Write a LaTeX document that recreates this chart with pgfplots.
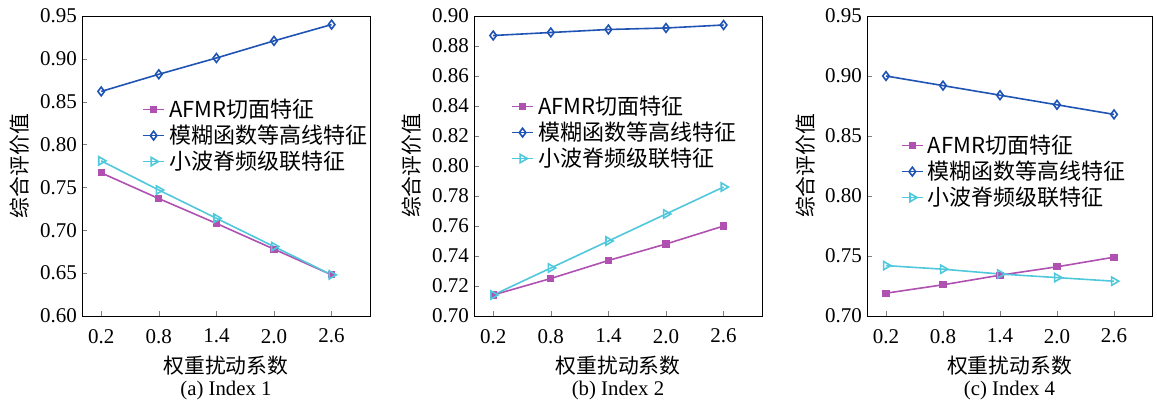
\documentclass[border=0pt]{standalone}
\usepackage{pgfplots}
\pgfplotsset{compat=1.18}
\usepackage{fontspec}
\setmainfont{Liberation Serif}
\newfontfamily\cjk{Noto Sans CJK SC}
\definecolor{cmag}{RGB}{176,80,176}
\definecolor{cblue}{RGB}{32,84,180}
\definecolor{ccyan}{RGB}{80,200,220}
\pgfplotsset{
  base/.style={
    scale only axis, width=144pt, height=150pt,
    xmin=0, xmax=3, xtick={0.2,0.8,1.4,2.0,2.6},
    xticklabels={0.2,0.8,1.4,2.0,2.6},
    tick align=inside, xtick pos=left, ytick pos=left,
    major tick length=2.5pt,
    /pgf/number format/assume math mode=true,
    /pgf/number format/fixed, /pgf/number format/fixed zerofill,
    /pgf/number format/precision=2,
    tick label style={font=\fontsize{10.5}{12}\selectfont},
    label style={font=\fontsize{10.4}{12}\selectfont\cjk},
    xlabel={权重扰动系数}, ylabel={综合评价值},
    xlabel style={at={(axis description cs:0.5,0)}, anchor=center, yshift=-25pt},
    ylabel style={at={(axis description cs:-0.215,0.5)}, anchor=center},
    legend style={draw=none, fill=none, font=\fontsize{11}{13}\selectfont\cjk,
      row sep=-1.8pt, inner sep=1pt},
    legend cell align=left,
    legend image code/.code={\draw[mark repeat=2,mark phase=2] plot coordinates {(0cm,0cm) (0.19cm,0cm) (0.38cm,0cm)};},
    every axis plot/.append style={line width=0.8pt},
    clip=false,
    yticklabel style={xshift=1pt},
    xticklabel style={yshift=-3pt},
  },
  pm/.style={color=cmag, mark=square*, mark size=1.4pt, mark options={solid}},
  pb/.style={color=cblue, mark=diamond, mark size=2.2pt, mark options={solid, fill=white}},
  pc/.style={color=ccyan, mark=triangle, mark size=2.4pt, mark options={solid, rotate=-90}},
}
\begin{document}
\begin{tikzpicture}
\useasboundingbox (-41pt,-42.5pt) rectangle (537.5pt,158pt);
\begin{axis}[base, at={(0pt,0pt)}, ymin=0.60, ymax=0.95, ytick={0.60,0.65,...,0.951},
  legend style={at={(0.2,0.745)}, anchor=north west}]
\addplot[pm] coordinates {(0.2,0.767) (0.8,0.737) (1.4,0.708) (2.0,0.678) (2.6,0.648)};
\addlegendentry{AFMR切面特征}
\addplot[pb] coordinates {(0.2,0.862) (0.8,0.882) (1.4,0.901) (2.0,0.921) (2.6,0.940)};
\addlegendentry{模糊函数等高线特征}
\addplot[pc] coordinates {(0.2,0.781) (0.8,0.747) (1.4,0.714) (2.0,0.681) (2.6,0.648)};
\addlegendentry{小波脊频级联特征}
\node[font=\fontsize{10.4}{12}\selectfont] at (axis description cs:0.5,0) [yshift=-37pt] {(a) Index 1};
\end{axis}
\begin{axis}[base, at={(196pt,0pt)}, ymin=0.70, ymax=0.90, ytick={0.70,0.72,...,0.901},
  legend style={at={(0.12,0.755)}, anchor=north west}]
\addplot[pm] coordinates {(0.2,0.714) (0.8,0.725) (1.4,0.737) (2.0,0.748) (2.6,0.760)};
\addlegendentry{AFMR切面特征}
\addplot[pb] coordinates {(0.2,0.887) (0.8,0.889) (1.4,0.891) (2.0,0.892) (2.6,0.894)};
\addlegendentry{模糊函数等高线特征}
\addplot[pc] coordinates {(0.2,0.714) (0.8,0.732) (1.4,0.750) (2.0,0.768) (2.6,0.786)};
\addlegendentry{小波脊频级联特征}
\node[font=\fontsize{10.4}{12}\selectfont] at (axis description cs:0.5,0) [yshift=-37pt] {(b) Index 2};
\end{axis}
\begin{axis}[base, at={(392.5pt,0pt)}, width=142.5pt, ymin=0.70, ymax=0.95, ytick={0.70,0.75,...,0.951},
  legend style={at={(0.11,0.625)}, anchor=north west}]
\addplot[pm] coordinates {(0.2,0.719) (0.8,0.726) (1.4,0.734) (2.0,0.741) (2.6,0.749)};
\addlegendentry{AFMR切面特征}
\addplot[pb] coordinates {(0.2,0.900) (0.8,0.892) (1.4,0.884) (2.0,0.876) (2.6,0.868)};
\addlegendentry{模糊函数等高线特征}
\addplot[pc] coordinates {(0.2,0.742) (0.8,0.739) (1.4,0.735) (2.0,0.732) (2.6,0.729)};
\addlegendentry{小波脊频级联特征}
\node[font=\fontsize{10.4}{12}\selectfont] at (axis description cs:0.5,0) [yshift=-37pt] {(c) Index 4};
\end{axis}
\end{tikzpicture}
\end{document}
